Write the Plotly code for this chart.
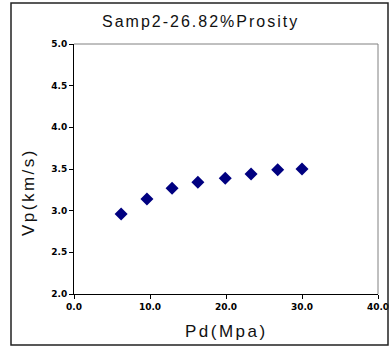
import plotly.graph_objects as go

pd_mpa = [6.2, 9.6, 12.9, 16.3, 19.9, 23.3, 26.8, 30.0]
vp = [2.96, 3.14, 3.27, 3.34, 3.39, 3.44, 3.49, 3.50]
x_ticks = [0, 10, 20, 30, 40]
x_tick_labels = ["0.0", "10.0", "20.0", "30.0", "40.0"]
y_ticks = [2.0, 2.5, 3.0, 3.5, 4.0, 4.5, 5.0]
y_tick_labels = ["2.0", "2.5", "3.0", "3.5", "4.0", "4.5", "5.0"]
title = "Samp2-26.82%Prosity"
x_title = "Pd(Mpa)"
y_title = "Vp(km/s)"

W, H = 389, 347
L, R, T, B = 74, 11, 44, 53
pw, ph = W - L - R, H - T - B

def px(xp):
    return (xp - L) / pw

def py(yp):
    return (H - B - yp) / ph

def spaced(s, sp):
    return '<span style="letter-spacing:%spx">%s</span>' % (sp, s)

fig = go.Figure(go.Scatter(
    x=pd_mpa, y=vp, mode="markers",
    marker=dict(symbol="diamond", size=10, color="#000080"),
))

fig.update_layout(
    width=W, height=H,
    margin=dict(l=L, r=R, t=T, b=B, autoexpand=False),
    paper_bgcolor="white", plot_bgcolor="white",
    showlegend=False,
    font=dict(family="Arial, Liberation Sans, sans-serif", color="#111111"),
)
tickfont = dict(size=9, family="DejaVu Sans", weight="bold", color="black")
fig.update_xaxes(
    range=[0, 40], tickvals=x_ticks, ticktext=x_tick_labels, automargin=False,
    showgrid=False, zeroline=False, showline=True, linecolor="black", linewidth=1,
    ticks="outside", ticklen=4, tickcolor="black", ticklabeloverflow="allow",
    tickfont=tickfont,
)
fig.update_yaxes(
    range=[2.0, 5.0], tickvals=y_ticks, ticktext=y_tick_labels, automargin=False,
    showgrid=False, zeroline=False, showline=True, linecolor="black", linewidth=1,
    ticks="outside", ticklen=4, tickcolor="black", ticklabeloverflow="allow",
    tickfont=tickfont,
)

# plot frame top/right in gray
fig.add_shape(type="line", xref="paper", yref="paper", x0=0, x1=1, y0=1, y1=1,
              line=dict(color="#808080", width=1))
fig.add_shape(type="line", xref="paper", yref="paper", x0=1, x1=1, y0=0, y1=1,
              line=dict(color="#808080", width=1))
# outer chart border
fig.add_shape(type="rect", xref="paper", yref="paper",
              x0=px(11), x1=px(388), y0=py(345), y1=py(3),
              line=dict(color="#222222", width=1.5))

fig.add_annotation(text=spaced(title, 2), xref="paper", yref="paper", x=px(200), y=py(22),
                   showarrow=False, font=dict(size=16), xanchor="center", yanchor="middle")
fig.add_annotation(text=spaced(x_title, 2.5), xref="paper", yref="paper", x=px(226), y=py(331),
                   showarrow=False, font=dict(size=17), xanchor="center", yanchor="middle")
fig.add_annotation(text=spaced(y_title, 2.5), xref="paper", yref="paper", x=px(28), y=py(192),
                   showarrow=False, font=dict(size=17), textangle=-90,
                   xanchor="center", yanchor="middle")

fig.write_html("out.html")
